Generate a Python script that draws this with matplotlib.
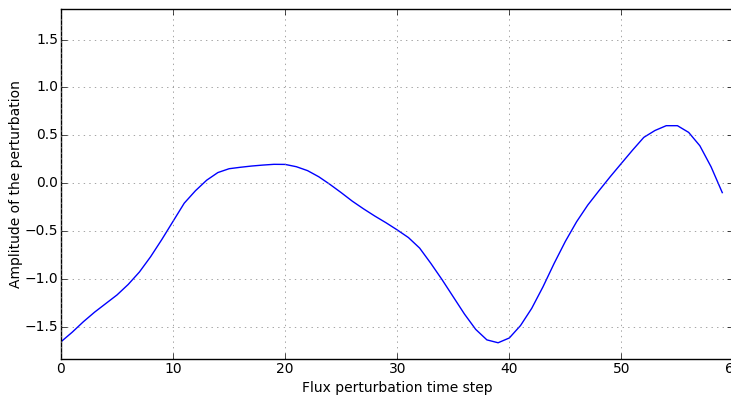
import matplotlib
matplotlib.use("Agg")
import matplotlib.pyplot as plt

plt.style.use('classic')

time_step = list(range(60))
amplitude = [-1.66, -1.56, -1.45, -1.35, -1.26, -1.17, -1.06, -0.93, -0.77, -0.59,
             -0.40, -0.21, -0.08, 0.03, 0.11, 0.15, 0.165, 0.178, 0.188, 0.196,
             0.195, 0.171, 0.13, 0.066, -0.014, -0.10, -0.19, -0.27, -0.345, -0.415,
             -0.49, -0.57, -0.68, -0.84, -1.01, -1.19, -1.37, -1.53, -1.64, -1.67,
             -1.62, -1.49, -1.31, -1.086, -0.84, -0.61, -0.405, -0.23, -0.08, 0.066,
             0.206, 0.345, 0.478, 0.55, 0.60, 0.60, 0.53, 0.39, 0.17, -0.10]

fig = plt.figure(figsize=(7.31, 3.96), dpi=100, facecolor='white')
ax = fig.add_axes([0.0834, 0.0934, 0.920, 0.8838])
ax.plot(time_step, amplitude, color='b', linewidth=1)
ax.set_xlim(0, 60)
ax.set_ylim(-1.84, 1.82)
ax.set_xticks([0, 10, 20, 30, 40, 50, 60])
ax.set_yticks([-1.5, -1.0, -0.5, 0.0, 0.5, 1.0, 1.5])
ax.grid(True, linestyle=':', color='gray')
ax.tick_params(labelsize=10, pad=2)
ax.set_xlabel("Flux perturbation time step", fontsize=10)
ax.set_ylabel("Amplitude of the perturbation", fontsize=10)
# place axis labels where the reference has them
ax.xaxis.set_label_coords(0.5, -0.062)
ax.yaxis.set_label_coords(-0.056, 0.5)

fig.savefig("out.png", dpi=100, facecolor='white')
